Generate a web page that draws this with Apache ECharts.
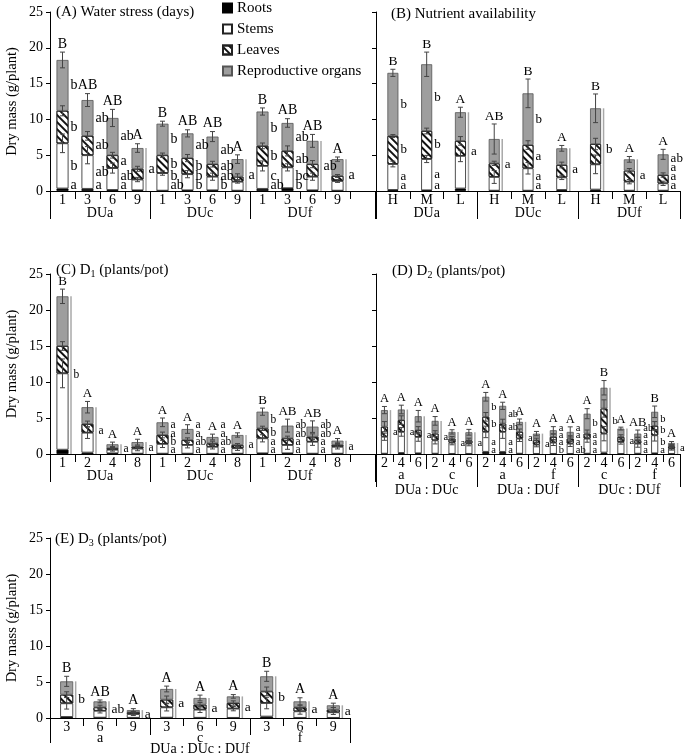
<!DOCTYPE html>
<html><head><meta charset="utf-8">
<script src="https://cdn.jsdelivr.net/npm/echarts@6/dist/echarts.min.js"></script>
<style>html,body{margin:0;padding:0;background:#fff}#c{width:685px;height:755px}</style>
</head><body><div id="c"></div><script>
// ---------- DATA ----------
const seriesNames = ['Roots','Stems','Leaves','Reproductive organs'];

// (A) Water stress (days)
const aCats = ['1','3','6','9','1','3','6','9','1','3','6','9'];
const aGroups = ['DUa','DUc','DUf'];
const aRoots  = [0.35,0.3,0.15,0.1, 0.05,0.1,0.1,0.05, 0.3,0.4,0.1,0.05];
const aStems  = [6.31,4.7,3.05,1.5, 2.45,2.25,1.9,1.25, 3.2,2.9,1.9,1.35];
const aLeaves = [4.54,2.7,1.8,1.5, 2.5,2.25,1.75,0.7, 2.8,2.3,1.75,0.7];
const aRepro  = [7.1,5.0,5.2,2.9, 4.4,3.45,3.85,2.45, 4.8,3.9,3.25,2.35];
const aErrStems  = [1.3,1.2,0.7,0.3, 0.3,0.5,0.5,0.2, 0.7,0.5,0.5,0.2];
const aErrLeaves = [0.7,0.6,0.4,0.35, 0.3,0.5,0.4,0.4, 0.4,0.7,0.5,0.2];
const aErrTotal  = [1.1,0.9,1.2,0.6, 0.35,0.5,0.7,0.6, 0.5,0.6,0.9,0.3];
const aCaps = ['B','AB','AB','A','B','AB','AB','A','B','AB','AB','A'];
const aLetters = [['b','b','b','a'],['ab','ab','ab','a'],['ab','a','ab','a'],['a'],
  ['b','b','b','ab'],['ab','b','b','b'],['ab','ab','ab','b'],['a'],
  ['b','b','c','ab'],['ab','ab','bc','b'],['ab'],['a']];

// (B) Nutrient availability
const bCats = ['H','M','L','H','M','L','H','M','L'];
const bGroups = ['DUa','DUc','DUf'];
const bRoots  = [0.15,0.1,0.35, 0.05,0.05,0.15, 0.2,0.05,0.05];
const bStems  = [3.62,4.37,4.55, 1.91,3.12,1.75, 3.52,1.25,1.02];
const bLeaves = [3.91,3.91,2.1, 1.9,3.25,1.73, 2.84,1.54,1.16];
const bRepro  = [8.82,9.32,4.0, 3.4,7.22,2.33, 4.99,1.58,2.89];
const bErrStems  = [0.4,0.5,0.8, 0.9,0.8,0.3, 1.3,0.3,0.3];
const bErrLeaves = [0.2,0.4,0.6, 0.3,0.6,0.4, 0.8,0.3,0.3];
const bErrTotal  = [0.5,1.7,0.7, 2.1,2.0,0.4, 2.0,0.4,0.7];
const bCaps = ['B','B','A','AB','B','A','B','A','A'];
const bLetters = [['b','b','a','a'],['b','b','a','a'],['a'],['a'],['b','a','a','a'],['a'],['b'],['a'],['ab','a','a','a']];

// (C) D1 (plants/pot)
const cCats = ['1','2','4','8','1','2','4','8','1','2','4','8'];
const cGroups = ['DUa','DUc','DUf'];
const cRoots  = [0.6,0.2,0.1,0.05, 0.05,0.05,0.03,0.05, 0.1,0.1,0.05,0.05];
const cStems  = [10.6,2.76,0.5,0.7, 1.35,1.2,0.97,0.75, 2.08,1.15,1.65,0.95];
const cLeaves = [3.8,1.21,0.2,0.25, 1.24,0.69,0.48,0.45, 1.38,0.93,0.7,0.25];
const cRepro  = [6.9,2.33,0.55,0.65, 1.76,1.53,0.88,1.39, 2.32,1.76,1.4,0.6];
const cErrStems  = [2.0,0.8,0.2,0.3, 0.5,0.4,0.3,0.3, 0.5,0.6,0.5,0.3];
const cErrLeaves = [0.6,0.4,0.1,0.1, 0.4,0.3,0.3,0.2, 0.3,0.3,0.4,0.2];
const cErrTotal  = [1.0,0.8,0.3,0.4, 0.6,0.6,0.4,0.3, 0.5,0.9,0.8,0.3];
const cCaps = ['B','A','A','A','A','A','A','A','B','AB','AB','A'];
const cLetters = [['b'],['a'],['a'],['a'],['a','a','b','a'],['a','a','ab','a'],['a','a','ab','a'],['a'],
  ['b','b','a','a'],['ab','ab','a','a'],['ab','ab','a','a'],['a']];

// (D) D2 (plants/pot)
const dCats = ['2','4','6','2','4','6','2','4','6','2','4','6','2','4','6','2','4','6'];
const dSub = ['a','c','a','f','c','f'];
const dGroups = ['DUa : DUc','DUa : DUf','DUc : DUf'];
const dRoots  = [0.05,0.15,0.1, 0.05,0.02,0.02, 0.3,0.3,0.05, 0.02,0.02,0.02, 0.05,0.2,0.02, 0.05,0.1,0.02];
const dStems  = [2.35,2.92,2.27, 1.85,1.56,1.42, 2.77,2.77,2.09, 1.28,1.56,1.42, 2.09,2.63,1.65, 1.39,2.5,0.72];
const dLeaves = [1.4,1.63,0.93, 0.93,0.56,0.46, 2.09,1.16,0.93, 0.6,0.79,0.7, 0.69,3.49,0.7, 0.46,1.3,0.33];
const dRepro  = [2.3,1.48,1.95, 1.77,0.93,1.12, 2.79,2.46,1.39, 0.93,0.93,0.93, 2.77,2.88,1.16, 0.93,1.96,0.46];
const dErrStems  = [0.5,0.6,0.6, 0.5,0.3,0.3, 0.8,0.9,0.4, 0.3,0.4,0.4, 0.5,1.0,0.3, 0.5,0.8,0.2];
const dErrLeaves = [0.7,0.6,0.5, 0.4,0.3,0.3, 0.6,0.6,0.4, 0.3,0.4,0.4, 0.5,1.2,0.3, 0.4,0.6,0.1];
const dErrTotal  = [0.5,0.6,0.8, 0.6,0.3,0.4, 0.6,0.5,0.4, 0.3,0.5,0.7, 0.7,1.0,0.2, 0.5,0.8,0.2];
const dCaps = ['A','A','A','A','A','A','A','A','A','A','A','A','A','B','A','AB','B','A'];
const dLetters = [['a'],['a'],['a'],['a'],['a'],['a'],
  ['b','b','a','a'],['ab','ab','a','a'],['a'],['a'],['a','a','a','b'],['a','a','a','ab'],
  ['b','a','a','a'],['b'],['a'],['ab','a','a','a'],['b','b','b','a'],['a']];

// (E) D3 (plants/pot)
const eCats = ['3','6','9','3','6','9','3','6','9'];
const eSub = ['a','c','f'];
const eGroups = ['DUa : DUc : DUf'];
const eRoots  = [0.15,0.05,0.03, 0.05,0.03,0.02, 0.2,0.02,0.02];
const eStems  = [1.89,0.95,0.52, 1.43,1.13,1.28, 1.88,0.91,0.77];
const eLeaves = [1.2,0.48,0.25, 1.07,0.69,0.78, 1.62,0.55,0.37];
const eRepro  = [1.85,0.83,0.3, 1.48,0.93,0.92, 2.09,0.83,0.6];
const eErrStems  = [0.8,0.3,0.2, 0.5,0.4,0.3, 0.8,0.4,0.3];
const eErrLeaves = [0.4,0.3,0.1, 0.5,0.3,0.3, 0.6,0.3,0.3];
const eErrTotal  = [0.7,0.2,0.2, 0.4,0.4,0.25, 0.7,0.5,0.3];
const eCaps = ['B','AB','A','A','A','A','B','A','A'];
const eLetters = [['b'],['ab'],['a'],['a'],['a'],['a'],['b'],['a'],['a']];

// ---------- BUILD ----------
const FONT = '"Liberation Serif", "Times New Roman", serif';
const option = {animation:false, grid:[], xAxis:[], yAxis:[], series:[], title:[],
  legend:{data:seriesNames, orient:'vertical', left:222, top:0, padding:0, itemWidth:9, itemHeight:9, itemGap:5,
    selectedMode:false, icon:'rect',
    textStyle:{fontSize:15, fontFamily:FONT, color:'#000', lineHeight:16}}};

const barStyles = [
  {color:'#000', borderColor:'#000', borderWidth:0.8},
  {color:'#fff', borderColor:'#222', borderWidth:0.8},
  {color:'#fff', borderColor:'#222', borderWidth:0.8,
    decal:{symbol:'rect', symbolSize:1, dashArrayX:[1,0], dashArrayY:[1.2,2.2], rotation:Math.PI/4, color:'#111'}},
  {color:'#9e9e9e', borderColor:'#555', borderWidth:0.8}
];

function mkLine(x1,y1,x2,y2,stroke,w){return {type:'line', shape:{x1,y1,x2,y2}, style:{stroke, lineWidth:w}};}
function mkText(x,y,text,size,align,va){return {type:'text', x, y, style:{text, fill:'#000', font: size+'px '+FONT, align, verticalAlign:va}};}

function addPanel(p){
  const gi = option.grid.length;
  option.grid.push({left:p.left, top:p.top, width:p.width, height:p.height, containLabel:false, outerBoundsMode:'none'});
  const yi = option.yAxis.length;
  option.yAxis.push({type:'value', gridIndex:gi, min:0, max:25, interval:5,
    axisLine:{show:true, lineStyle:{color:'#000', width:1}},
    axisTick:{show:true, inside:false, length:4, lineStyle:{color:'#000'}},
    axisLabel:{show:p.yLabels, fontSize:14, fontFamily:FONT, color:'#000', margin:7},
    splitLine:{show:false},
    name: p.yLabels ? 'Dry mass (g/plant)' : '', nameLocation:'middle', nameGap:30, nameRotate:90,
    nameTextStyle:{fontSize:14.5, fontFamily:FONT, color:'#000'}});
  const xi = option.xAxis.length;
  const cats1 = p.pad ? p.cats.concat(['']) : p.cats;
  option.xAxis.push({type:'category', gridIndex:gi, data:cats1, position:'bottom', offset:0,
    axisLine:{show:true, lineStyle:{color:'#000', width:1}},
    axisTick:{show:true, length:8, interval:0, lineStyle:{color:'#000'}},
    axisLabel:{interval:0, margin:2, fontSize:p.catFont, fontFamily:FONT, color:'#000'}});
  p.levels.forEach(lv=>{
    option.xAxis.push({type:'category', gridIndex:gi, data:lv.data, position:'bottom', offset:0,
      boundaryGap: lv.boundaryGap !== false,
      axisLine:{show:false},
      axisTick:{show:true, length:lv.tick, interval: lv.tickInterval !== undefined ? lv.tickInterval : 0, lineStyle:{color:'#000'}},
      axisLabel:{interval: lv.labelInterval !== undefined ? lv.labelInterval : 0, margin:lv.margin,
        fontSize:p.catFont, fontFamily:FONT, color:'#000'}});
  });
  const arrs = [p.roots, p.stems, p.leaves, p.repro];
  arrs.forEach((arr,k)=>{
    option.series.push({type:'bar', name:seriesNames[k], xAxisIndex:xi, yAxisIndex:yi, stack:'s'+gi,
      data:arr, barWidth:p.barW, itemStyle:barStyles[k], silent:true, emphasis:{disabled:true}});
  });
  option.series.push({type:'custom', xAxisIndex:xi, yAxisIndex:yi, clip:false, z:10, silent:true,
    data: p.roots.map((v,i)=>[i,0]),
    renderItem:(params, api)=>{
      const i = params.dataIndex;
      const r = p.roots[i], s = r + p.stems[i], l = s + p.leaves[i], t = l + p.repro[i];
      const Y = v => api.coord([i, v])[1];
      const xc = api.coord([i, 0])[0];
      const y0 = Y(0);
      const hw = p.barW/2;
      const ch = [];
      const eb = (v,e)=>{ const y1=Y(v+e), y2=Y(v-e);
        ch.push(mkLine(xc,y1,xc,y2,'#444',1), mkLine(xc-2.5,y1,xc+2.5,y1,'#444',1), mkLine(xc-2.5,y2,xc+2.5,y2,'#444',1)); };
      eb(s, p.errS[i]); eb(l, p.errL[i]); eb(t, p.errT[i]);
      ch.push(mkText(xc, Y(t + p.errT[i]) - 1, p.caps[i], p.capFont, 'center', 'bottom'));
      const L = p.letters[i];
      const xr = xc + hw;
      if (L.length === 1) {
        ch.push(mkLine(xr+2.5, Y(t), xr+2.5, y0, '#a8a8a8', 1.5));
        ch.push(mkText(xr+5, (Y(t)+y0)/2, L[0], p.lowFont, 'left', 'middle'));
      } else {
        const mids = [(l+t)/2, (s+l)/2, (r+s)/2, r/2].map(Y);
        const gap = p.lowFont*0.7;
        const ys = [];
        let prev = null;
        for (let k=3; k>=0; k--) {
          let y = mids[k];
          if (k===3) y = Math.min(y, y0 - p.lowFont*0.38);
          else y = Math.min(y, prev - gap);
          ys[k] = y; prev = y;
        }
        L.forEach((txt,k)=> ch.push(mkText(xr+2, ys[k], txt, p.lowFont, 'left', 'middle')));
      }
      return {type:'group', children:ch};
    }});
}

function halfPoints(groups, per, extra){
  const n = groups.length*per + extra;
  const pts = new Array(2*n+1).fill('');
  groups.forEach((g,k)=>{ pts[2*k*per + per] = g; });
  return pts;
}
function halfLevel(groups, per){
  const pts = halfPoints(groups, per, 1);
  const last = pts.length - 1, lim = 2*groups.length*per;
  return {data:pts, boundaryGap:false, tick:28, margin:15,
    tickInterval:(i)=> i===last || (i % (2*per) === 0 && i < lim),
    labelInterval:(i,v)=> v !== ''};
}

addPanel({left:50, top:12, width:325, height:179, pad:true, yLabels:true, barW:12, capFont:14, lowFont:14, catFont:14,
  cats:aCats, roots:aRoots, stems:aStems, leaves:aLeaves, repro:aRepro,
  errS:aErrStems, errL:aErrLeaves, errT:aErrTotal, caps:aCaps, letters:aLetters,
  levels:[halfLevel(aGroups,4)]});
addPanel({left:376, top:12, width:304, height:179, pad:false, yLabels:false, barW:11, capFont:13.5, lowFont:13, catFont:14,
  cats:bCats, roots:bRoots, stems:bStems, leaves:bLeaves, repro:bRepro,
  errS:bErrStems, errL:bErrLeaves, errT:bErrTotal, caps:bCaps, letters:bLetters,
  levels:[{data:bGroups, tick:28, margin:15}]});
addPanel({left:50, top:274, width:325, height:180, pad:true, yLabels:true, barW:12, capFont:13, lowFont:11.5, catFont:14,
  cats:cCats, roots:cRoots, stems:cStems, leaves:cLeaves, repro:cRepro,
  errS:cErrStems, errL:cErrLeaves, errT:cErrTotal, caps:cCaps, letters:cLetters,
  levels:[halfLevel(cGroups,4)]});
addPanel({left:376, top:274, width:304, height:180, pad:false, yLabels:false, barW:7, capFont:12.5, lowFont:10.5, catFont:14,
  cats:dCats, roots:dRoots, stems:dStems, leaves:dLeaves, repro:dRepro,
  errS:dErrStems, errL:dErrLeaves, errT:dErrTotal, caps:dCaps, letters:dLetters,
  levels:[{data:dSub, tick:15, margin:14},{data:dGroups, tick:33, margin:29}]});
addPanel({left:50, top:538, width:300, height:180, pad:false, yLabels:true, barW:13, capFont:14, lowFont:13.5, catFont:14,
  cats:eCats, roots:eRoots, stems:eStems, leaves:eLeaves, repro:eRepro,
  errS:eErrStems, errL:eErrLeaves, errT:eErrTotal, caps:eCaps, letters:eLetters,
  levels:[{data:eSub, tick:17, margin:13},{data:eGroups, tick:25, margin:24}]});

const titleStyle = {fontSize:15, fontFamily:FONT, fontWeight:'normal', color:'#000', lineHeight:18,
  rich:{s:{fontSize:10, fontFamily:FONT, color:'#000', lineHeight:10, verticalAlign:'bottom'}}};
option.title = [
  {text:'(A) Water stress (days)', left:56, top:3, padding:0, textStyle:titleStyle},
  {text:'(B) Nutrient availability', left:391, top:5, padding:0, textStyle:titleStyle},
  {text:'(C) D{s|1} (plants/pot)', left:56, top:261, padding:0, textStyle:titleStyle},
  {text:'(D) D{s|2} (plants/pot)', left:392, top:262, padding:0, textStyle:titleStyle},
  {text:'(E) D{s|3} (plants/pot)', left:55, top:530, padding:0, textStyle:titleStyle}
];

const chart = echarts.init(document.getElementById('c'), null, {renderer:'canvas'});
chart.setOption(option);
</script></body></html>
